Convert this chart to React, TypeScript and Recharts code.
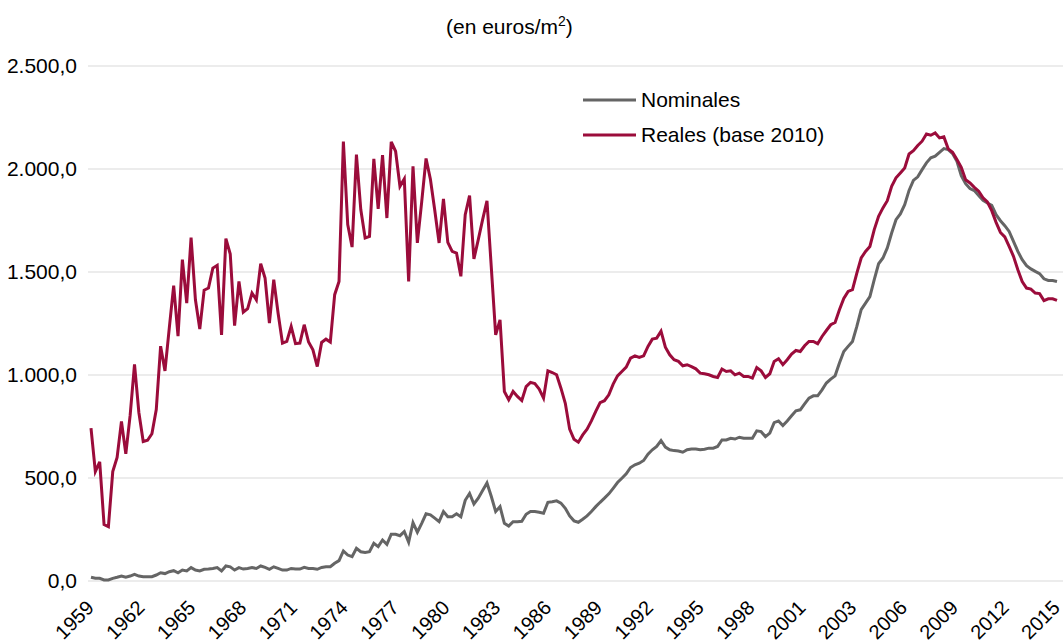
import React from 'react';
import { LineChart, Line, XAxis, YAxis, CartesianGrid, Legend } from 'recharts';

// Precio medio del m2 de vivienda (trimestral, 1959 - 2015)
const nominales: number[] = [
  18, 13, 13, 5, 5, 13, 18, 24, 18, 24, 32, 24, 21, 21, 21, 29, 40, 36, 45, 50,
  40, 53, 49, 65, 53, 49, 57, 58, 61, 65, 49, 73, 69, 53, 65, 58, 61, 65, 61, 73,
  66, 57, 69, 61, 53, 53, 61, 58, 58, 66, 61, 61, 57, 66, 69, 69, 86, 99, 146, 126,
  118, 159, 142, 139, 142, 183, 167, 199, 178, 227, 227, 220, 240, 188, 283, 237, 280, 326, 321, 305,
  288, 337, 312, 312, 326, 312, 392, 425, 374, 402, 439, 476, 410, 337, 361, 280, 267, 288, 288, 290,
  324, 337, 337, 334, 329, 382, 385, 389, 378, 353, 316, 292, 285, 300, 316, 337, 361, 382, 402, 423,
  450, 478, 499, 520, 551, 564, 572, 585, 616, 637, 653, 682, 650, 637, 633, 631, 625, 637, 641, 641,
  637, 640, 645, 645, 653, 685, 685, 693, 689, 698, 693, 693, 693, 729, 725, 701, 718, 769, 777, 755,
  777, 802, 826, 831, 860, 888, 899, 899, 928, 961, 980, 996, 1058, 1114, 1139, 1163, 1236, 1317, 1349, 1381,
  1463, 1540, 1568, 1617, 1689, 1754, 1782, 1827, 1896, 1945, 1962, 1997, 2030, 2054, 2062, 2081, 2099, 2094, 2075, 2037,
  1968, 1929, 1905, 1895, 1871, 1848, 1835, 1824, 1778, 1749, 1725, 1697, 1649, 1600, 1560, 1531, 1515, 1503, 1492, 1467,
  1459, 1459, 1454,
];

const reales: number[] = [
  742, 531, 578, 274, 264, 531, 600, 775, 617, 805, 1052, 818, 677, 683, 715, 832, 1140, 1020, 1230, 1434,
  1189, 1560, 1349, 1667, 1365, 1223, 1412, 1422, 1519, 1532, 1195, 1662, 1587, 1240, 1454, 1305, 1322, 1398, 1365, 1540,
  1471, 1252, 1463, 1300, 1155, 1163, 1236, 1152, 1155, 1244, 1160, 1122, 1041, 1158, 1174, 1160, 1390, 1454, 2133, 1730,
  1621, 2070, 1803, 1665, 1673, 2049, 1806, 2067, 1762, 2132, 2086, 1916, 1952, 1454, 2013, 1641, 1840, 2051, 1950, 1800,
  1641, 1855, 1644, 1600, 1592, 1479, 1778, 1871, 1563, 1657, 1754, 1846, 1520, 1195, 1268, 920, 880, 920, 896, 876,
  944, 964, 958, 932, 888, 1020, 1012, 1001, 936, 863, 737, 688, 674, 709, 737, 777, 823, 866, 875, 904,
  956, 996, 1017, 1038, 1082, 1093, 1085, 1093, 1139, 1174, 1179, 1213, 1135, 1098, 1074, 1066, 1045, 1050, 1041, 1030,
  1009, 1006, 1001, 993, 988, 1029, 1017, 1020, 1001, 1009, 993, 993, 985, 1036, 1020, 988, 1006, 1066, 1079, 1050,
  1074, 1102, 1119, 1114, 1142, 1163, 1163, 1152, 1187, 1216, 1244, 1255, 1317, 1372, 1406, 1414, 1495, 1568, 1600, 1624,
  1706, 1770, 1811, 1846, 1916, 1957, 1981, 2005, 2073, 2089, 2114, 2135, 2170, 2164, 2175, 2151, 2156, 2098, 2081, 2046,
  2008, 1948, 1932, 1911, 1892, 1860, 1840, 1798, 1741, 1692, 1670, 1624, 1576, 1511, 1454, 1422, 1417, 1398, 1395, 1361,
  1370, 1370, 1362,
];

const yearLabels: string[] = [
  '1959', '1962', '1965', '1968', '1971', '1974', '1977', '1980', '1983', '1986',
  '1989', '1992', '1995', '1998', '2001', '2003', '2006', '2009', '2012', '2015',
];

const yTicks: number[] = [0, 500, 1000, 1500, 2000, 2500];

const seriesNames = { nominales: 'Nominales', reales: 'Reales (base 2010)' };

const data = nominales.map((v, i) => ({ i, nominales: v, reales: reales[i] }));
const lastIndex = data.length - 1;
const xTicks = yearLabels.map((_, k) => (k * lastIndex) / (yearLabels.length - 1));

const FONT = '"Liberation Sans", Arial, sans-serif';
const RED = '#9b0c3b';
const GRAY = '#656565';

const fmt = (v: number) =>
  Math.round(v).toString().replace(/\B(?=(\d{3})+(?!\d))/g, '.') + ',0';

const XTick = (props: any) => {
  const { x, y, payload } = props;
  const k = Math.round((payload.value * (yearLabels.length - 1)) / lastIndex);
  return (
    <g transform={`translate(${x + 4},${y + 28})`}>
      <text textAnchor="end" transform="rotate(-45)" fontSize={20} fill="#000" fontFamily={FONT}>
        {yearLabels[k]}
      </text>
    </g>
  );
};

const renderLegend = (props: any) => (
  <div style={{ fontFamily: FONT }}>
    {(props.payload || []).map((p: any) => (
      <div key={p.value} style={{ display: 'flex', alignItems: 'center', height: 35 }}>
        <svg width={53} height={4} style={{ display: 'block' }}>
          <line x1={0} y1={2} x2={53} y2={2} stroke={p.color} strokeWidth={3} />
        </svg>
        <span style={{ marginLeft: 5, fontSize: 21, color: '#000', whiteSpace: 'nowrap' }}>{p.value}</span>
      </div>
    ))}
  </div>
);

export default function App() {
  return (
    <div style={{ position: 'absolute', left: 0, top: 0, width: 1063, height: 642, background: '#fff', fontFamily: FONT }}>
      <div style={{ position: 'absolute', left: 446, top: 14, fontSize: 21, lineHeight: '26px', color: '#000', whiteSpace: 'nowrap' }}>
        (en euros/m<sup style={{ fontSize: 14, lineHeight: 0, verticalAlign: 'super' }}>2</sup>)
      </div>
      <LineChart width={1063} height={642} data={data} margin={{ top: 66, right: 0, bottom: 0, left: 0 }}>
        <CartesianGrid vertical={false} stroke="#d9d9d9" strokeWidth={1.2} />
        <XAxis
          dataKey="i"
          type="number"
          domain={[0, lastIndex]}
          ticks={xTicks}
          interval={0}
          tick={<XTick />}
          tickLine={false}
          axisLine={false}
          tickSize={0}
          tickMargin={0}
          height={61}
          padding={{ left: 3, right: 6 }}
          allowDecimals
        />
        <YAxis
          domain={[0, 2500]}
          ticks={yTicks}
          tickFormatter={fmt}
          width={88}
          tickLine={false}
          axisLine={false}
          tickSize={0}
          tickMargin={11}
          tick={{ fontSize: 21, fill: '#000', fontFamily: FONT }}
        />
        <Legend
          layout="vertical"
          align="center"
          verticalAlign="middle"
          content={renderLegend}
          wrapperStyle={{ position: 'absolute', left: 583, top: 82, width: 300 }}
        />
        <Line type="linear" dataKey="nominales" name={seriesNames.nominales} stroke={GRAY} strokeWidth={3} dot={false} isAnimationActive={false} />
        <Line type="linear" dataKey="reales" name={seriesNames.reales} stroke={RED} strokeWidth={3} dot={false} isAnimationActive={false} />
      </LineChart>
    </div>
  );
}
